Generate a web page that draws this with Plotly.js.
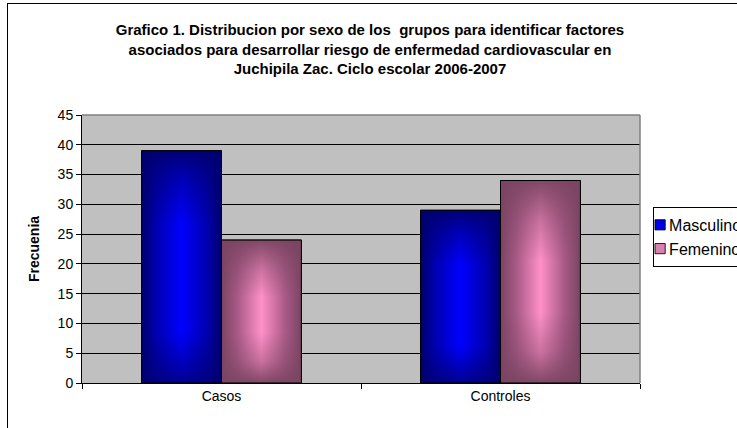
<!DOCTYPE html>
<html>
<head>
<meta charset="utf-8">
<script src="https://cdn.plot.ly/plotly-3.0.1.min.js"></script>
<style>
  html, body { margin: 0; padding: 0; background: #fff; overflow: hidden; }
  #wrap { position: relative; width: 737px; height: 428px; overflow: hidden; }
  #frame { position: absolute; left: 7px; top: 3px; width: 900px; height: 600px;
           border: 1px solid #000; box-sizing: border-box; }
  #chart { position: absolute; left: 0; top: 0; width: 737px; height: 428px; }
</style>
</head>
<body>
<div id="wrap">
  <div id="frame"></div>
  <div id="chart"></div>
</div>
<script>
// Grupos del estudio y frecuencias por sexo
const grupos = ['Casos', 'Controles'];
const masculino = [39, 29];
const femenino = [24, 34];
const yTicks = [0, 5, 10, 15, 20, 25, 30, 35, 40, 45];

const FONT = 'Liberation Sans, Arial, sans-serif';

const traces = [
  {
    type: 'bar', name: 'Masculino', x: grupos, y: masculino,
    marker: { color: '#0000e8', line: { color: '#000', width: 1 } }
  },
  {
    type: 'bar', name: 'Femenino', x: grupos, y: femenino,
    marker: { color: '#d880b0', line: { color: '#000', width: 1 } }
  }
];

const layout = {
  width: 737, height: 428,
  margin: { l: 82, r: 97, t: 115, b: 45, autoexpand: false },
  paper_bgcolor: 'rgba(0,0,0,0)',
  plot_bgcolor: '#c0c0c0',
  font: { family: FONT, color: '#000', size: 13 },
  title: {
    text: '<b>Grafico 1. Distribucion por sexo de los\u00a0 grupos para identificar factores<br>' +
          'asociados para desarrollar riesgo de enfermedad cardiovascular en<br>' +
          'Juchipila Zac. Ciclo escolar 2006-2007</b>',
    font: { family: FONT, size: 15, color: '#000' },
    xref: 'container', yref: 'container',
    x: 0.502, xanchor: 'center', y: 0.918, yanchor: 'top'
  },
  barmode: 'group',
  bargap: 0.427,
  bargroupgap: 0,
  showlegend: true,
  legend: {
    x: 1.0235, xanchor: 'left', y: 0.657, yanchor: 'top',
    bgcolor: '#fff', bordercolor: '#000', borderwidth: 1,
    font: { family: FONT, size: 16, color: '#000' },
    itemwidth: 30,
    traceorder: 'normal'
  },
  xaxis: {
    type: 'category',
    showgrid: false, zeroline: false,
    showline: true, linecolor: '#000', linewidth: 1,
    ticks: 'outside', tickson: 'boundaries', ticklen: 5, tickcolor: '#000',
    tickfont: { family: FONT, size: 14, color: '#000' }
  },
  yaxis: {
    range: [0, 45], tickvals: yTicks, ticktext: yTicks.map(String),
    showgrid: true, gridcolor: '#000', gridwidth: 1,
    zeroline: false,
    showline: true, linecolor: '#000', linewidth: 1,
    ticks: 'outside', ticklen: 5, tickcolor: '#000',
    tickfont: { family: FONT, size: 14, color: '#000' },
    title: { text: '<b>Frecuenia</b>', font: { family: FONT, size: 14, color: '#000' }, standoff: 14 }
  },
  shapes: [
    // grey edges of the plot area (top and right)
    { type: 'line', xref: 'paper', yref: 'paper', x0: 0, x1: 1, y0: 1, y1: 1,
      line: { color: '#808080', width: 1.5 }, layer: 'above' },
    { type: 'line', xref: 'paper', yref: 'paper', x0: 1, x1: 1, y0: 0, y1: 1,
      line: { color: '#808080', width: 1.5 }, layer: 'above' }
  ]
};

// Shaded fills for the bars (SVG gradients applied to the rendered bar paths)
function addGradients(gd) {
  const svgNS = 'http://www.w3.org/2000/svg';
  const svg = gd.querySelector('svg.main-svg');
  let defs = svg.querySelector('defs');
  if (!defs) { defs = document.createElementNS(svgNS, 'defs'); svg.insertBefore(defs, svg.firstChild); }

  function lin(id, horizontal, stops) {
    const g = document.createElementNS(svgNS, 'linearGradient');
    g.setAttribute('id', id);
    g.setAttribute('x1', '0'); g.setAttribute('y1', '0');
    g.setAttribute('x2', horizontal ? '1' : '0'); g.setAttribute('y2', horizontal ? '0' : '1');
    stops.forEach(([off, col, op]) => {
      const s = document.createElementNS(svgNS, 'stop');
      s.setAttribute('offset', off);
      s.setAttribute('stop-color', col);
      s.setAttribute('stop-opacity', op === undefined ? 1 : op);
      g.appendChild(s);
    });
    defs.appendChild(g);
  }

  lin('blueH', true, [['0', '#00006a'], ['0.18', '#0000b0'], ['0.5', '#0000ff'], ['0.82', '#0000b0'], ['1', '#00006a']]);
  lin('blueV', false, [['0', '#000070', 0.95], ['0.12', '#000070', 0.5], ['0.32', '#000070', 0], ['0.78', '#000070', 0], ['1', '#000070', 0.75]]);
  lin('pinkH', true, [['0', '#7a4462'], ['0.2', '#a85a86'], ['0.5', '#ff90c8'], ['0.8', '#a85a86'], ['1', '#7a4462']]);
  lin('pinkV', false, [['0', '#7a4462', 0.95], ['0.2', '#7a4462', 0.4], ['0.4', '#7a4462', 0], ['0.65', '#7a4462', 0], ['0.85', '#7a4462', 0.4], ['1', '#7a4462', 0.95]]);

  const fills = [['blueH', 'blueV'], ['pinkH', 'pinkV']];
  gd.querySelectorAll('.barlayer .trace.bars').forEach((tr, i) => {
    const [h, v] = fills[i];
    tr.querySelectorAll('.point').forEach(pt => {
      const p = pt.querySelector('path');
      if (!p) return;
      p.style.fill = 'url(#' + h + ')';
      const ov = p.cloneNode(true);
      ov.style.fill = 'url(#' + v + ')';
      ov.style.stroke = 'none';
      pt.appendChild(ov);
      const edge = p.cloneNode(true);
      edge.style.fill = 'none';
      pt.appendChild(edge);
    });
  });

  // compact legend entries: small swatch close to its label
  gd.querySelectorAll('.legend .traces').forEach(t => {
    const lp = t.querySelector('.legendpoints');
    if (lp) lp.setAttribute('transform', 'translate(-11,0) scale(0.85)');
    const txt = t.querySelector('.legendtext');
    if (txt) txt.setAttribute('x', parseFloat(txt.getAttribute('x') || 0) - 25);
  });
}

Plotly.newPlot('chart', traces, layout, { staticPlot: true, displayModeBar: false })
  .then(addGradients);
</script>
</body>
</html>
